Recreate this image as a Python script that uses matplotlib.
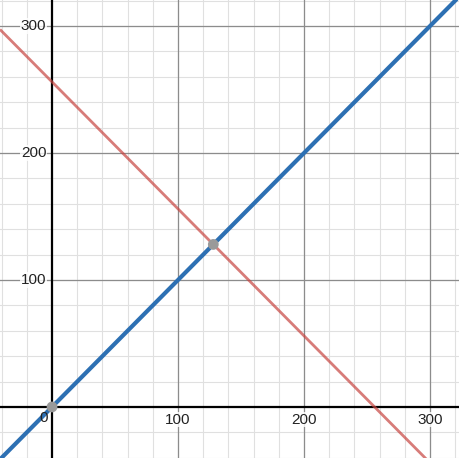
import matplotlib
matplotlib.use('Agg')
import matplotlib.pyplot as plt
import numpy as np

matplotlib.rc('font', family='Liberation Sans')

# line definitions y = slope * x + intercept
blue_slope, blue_intercept = 1.0, 0.0
red_slope, red_intercept = -1.0, 256.0

# highlighted points
point_x = [0, 128]
point_y = [0, 128]

major_ticks = [100, 200, 300]
x_range = (-41.3, 323.8)
y_range = (-40.2, 320.5)

fig = plt.figure(figsize=(4.6, 4.58), dpi=100)
ax = fig.add_axes([0, 0, 1, 1])
ax.set_xlim(x_range)
ax.set_ylim(y_range)

# grid
minor = np.arange(-40, 340, 20)
for v in minor:
    ax.axvline(v, color='#e0e0e0', linewidth=0.8, zorder=0)
    ax.axhline(v, color='#e0e0e0', linewidth=0.8, zorder=0)
for v in major_ticks:
    ax.axvline(v, color='#8c8c8c', linewidth=0.9, zorder=1)
    ax.axhline(v, color='#8c8c8c', linewidth=0.9, zorder=1)
ax.axvline(0, color='black', linewidth=1.6, zorder=2)
ax.axhline(0, color='black', linewidth=1.6, zorder=2)

xs = np.array(x_range)
ax.plot(xs, red_slope * xs + red_intercept, color='#c74440', alpha=0.7,
        linewidth=2.0, zorder=3, solid_capstyle='butt')
ax.plot(xs, blue_slope * xs + blue_intercept, color='#2d70b3',
        linewidth=3.0, zorder=4, solid_capstyle='butt')
ax.scatter(point_x, point_y, s=60, color='#9a9a9a', zorder=5, edgecolors='none')

# tick labels
for v in major_ticks:
    ax.text(v, -4.5, str(v), ha='center', va='top', fontsize=11, color='#222222',
            bbox=dict(facecolor='white', edgecolor='none', pad=0.5, alpha=0.8), zorder=6)
    ax.text(-4.5, v, str(v), ha='right', va='center', fontsize=11, color='#222222',
            bbox=dict(facecolor='white', edgecolor='none', pad=0.5, alpha=0.8), zorder=6)
ax.text(-3, -3, '0', ha='right', va='top', fontsize=11, color='#222222', zorder=6)

ax.set_xticks([])
ax.set_yticks([])
for s in ax.spines.values():
    s.set_visible(False)

fig.savefig('out.png', dpi=100)
